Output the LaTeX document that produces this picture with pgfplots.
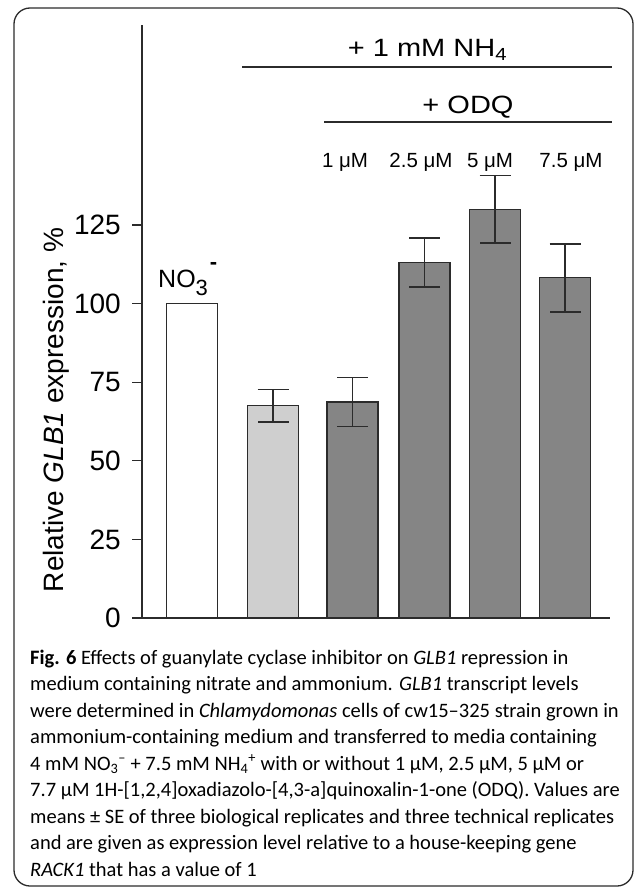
\documentclass[border=0pt]{standalone}
\usepackage{fontspec}
\setmainfont{Liberation Sans}
\newfontfamily\capfont{Carlito}
\usepackage{pgfplots}
\pgfplotsset{compat=1.18}
\definecolor{lightbar}{HTML}{CFCFCF}
\definecolor{darkbar}{HTML}{858585}
\definecolor{ink}{HTML}{2B2B2B}
\newcommand\fs[1]{\fontsize{#1bp}{#1bp}\selectfont}

\begin{document}
\begin{tikzpicture}[x=1bp,y=-1bp,every node/.style={inner sep=0pt}]
\path[use as bounding box] (0,0) rectangle (636,887);
\draw[ink, line width=1.3bp, rounded corners=16bp] (14,8) rectangle (633,886);

\begin{axis}[
  at={(142bp,-618bp)}, anchor=south west,
  scale only axis, width=468bp, height=593bp,
  xmin=142, xmax=610, ymin=0, ymax=188.6,
  axis lines=left,
  axis line style={-, ink, line width=1.2bp},
  xtick=\empty,
  ytick={0,25,...,125},
  tick align=outside, major tick length=10bp,
  ytick style={ink, line width=1.2bp},
  yticklabel style={font=\fs{28}, anchor=east, inner sep=0pt, xshift=-11bp},
  /pgf/number format/assume math mode=true,
  clip=false,
  bar width=51,
  every axis plot/.append style={ybar, bar shift=0pt, draw=ink, line width=1.2bp},
  error bars/error bar style={ink, line width=1.5bp},
  error bars/error mark options={rotate=90, ink, line width=1.5bp, mark size=15.5bp},
]
% NO3- control
\addplot[fill=white] coordinates {(192,100)};
% + NH4, no ODQ
\addplot[fill=lightbar, error bars/.cd, y dir=both, y explicit]
  coordinates {(273,67.5) +- (0,5.2)};
% + NH4 + ODQ 1, 2.5, 5, 7.5 uM
\addplot[fill=darkbar, error bars/.cd, y dir=both, y explicit]
  coordinates {
    (352.5,68.7) +- (0,7.8)
    (424.5,113) +- (0,7.8)
    (495,130) +- (0,10.8)
    (565,108.2) +- (0,10.8)
  };
\end{axis}

% y label
\node[rotate=90, anchor=base, font=\fs{28}] at (63,410) {Relative \textit{GLB1} expression, \%};

% treatment annotations
\node[anchor=base, font=\fs{25}] at (427.5,56.7) {\scalebox{1.16}[1]{+ 1 mM NH\textsubscript{4}}};
\draw[ink, line width=2bp] (242,67) -- (612,67);
\node[anchor=base, font=\fs{25}] at (468,113.3) {\scalebox{1.16}[1]{+ ODQ}};
\draw[ink, line width=2bp] (324,122) -- (612,122);
\node[anchor=base, font=\fs{20.5}] at (345,167) {1 μM};
\node[anchor=base, font=\fs{20.5}] at (421,167) {2.5 μM};
\node[anchor=base, font=\fs{20.5}] at (490,167) {5 μM};
\node[anchor=base, font=\fs{20.5}] at (571,167) {7.5 μM};
\node[anchor=base west, font=\fs{25}] at (158,287)
  {NO\raisebox{-8bp}{\fs{22}3}\hspace{2bp}\raisebox{18bp}{\fs{22}\bfseries -}};

% caption
\begin{scope}[every node/.style={anchor=base west, inner sep=0pt, font=\capfont\fs{20.5}}]
\node at (30,664) {\textbf{Fig. 6} Effects of guanylate cyclase inhibitor on \textit{GLB1} repression in};
\node at (30,690.5) {medium containing nitrate and ammonium. \textit{GLB1} transcript levels};
\node at (30,717) {were determined in \textit{Chlamydomonas} cells of cw15–325 strain grown in};
\node at (30,743.5) {ammonium-containing medium and transferred to media containing};
\node at (30,770) {4 mM NO\textsubscript{3}\textsuperscript{–} + 7.5 mM NH\textsubscript{4}\textsuperscript{+} with or without 1 µM, 2.5 µM, 5 µM or};
\node at (30,796.5) {7.7 µM 1H-[1,2,4]oxadiazolo-[4,3-a]quinoxalin-1-one (ODQ). Values are};
\node at (30,823) {means ± SE of three biological replicates and three technical replicates};
\node at (30,849.5) {and are given as expression level relative to a house-keeping gene};
\node at (30,876) {\textit{RACK1} that has a value of 1};
\end{scope}
\end{tikzpicture}
\end{document}
